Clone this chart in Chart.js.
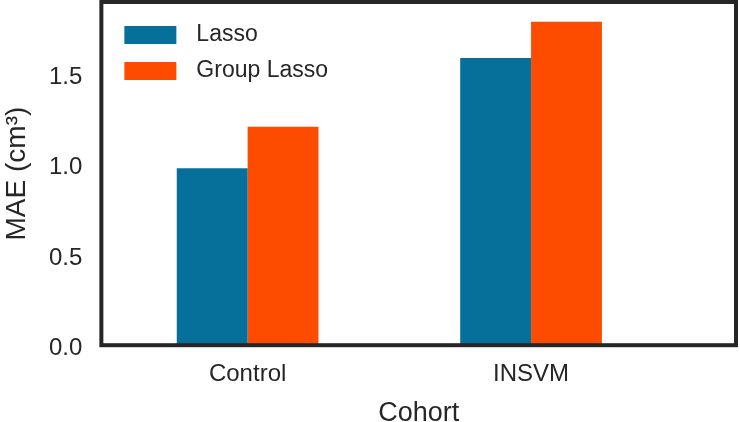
<!DOCTYPE html>
<html lang="en">
<head>
    <meta charset="UTF-8">
    <title>MAE by Cohort</title>
    <script src="https://cdn.jsdelivr.net/npm/chart.js"></script>
    <style>
        html, body { margin: 0; padding: 0; background: #fff; }
        #wrap { width: 740px; height: 422px; }
    </style>
</head>
<body>
<div id="wrap"><canvas id="maeChart"></canvas></div>
<script>
    // data
    const cohorts = ['Control', 'INSVM'];
    const lasso = [0.98, 1.59];
    const groupLasso = [1.21, 1.79];
    const yTicks = [0.0, 0.5, 1.0, 1.5];

    const ink = '#262626';
    Chart.defaults.font.family = '"Liberation Sans", Arial, sans-serif';
    Chart.defaults.color = ink;

    // black frame around the plot area, like the matplotlib axes spines
    const frame = {
        id: 'frame',
        afterDraw(chart) {
            const a = chart.chartArea, c = chart.ctx;
            c.save();
            c.strokeStyle = ink;
            c.lineWidth = 4;
            c.strokeRect(a.left, a.top, a.right - a.left, a.bottom - a.top);
            c.restore();
        }
    };

    // legend drawn inside the plot, top left
    const innerLegend = {
        id: 'innerLegend',
        afterDatasetsDraw(chart) {
            const a = chart.chartArea, c = chart.ctx;
            c.save();
            c.font = '23px "Liberation Sans", Arial, sans-serif';
            c.textBaseline = 'middle';
            chart.data.datasets.forEach((ds, i) => {
                const y = a.top + 33 + i * 36;
                c.fillStyle = ds.backgroundColor;
                c.fillRect(a.left + 23, y - 9, 52, 18);
                c.fillStyle = ink;
                c.fillText(ds.label, a.left + 95, y);
            });
            c.restore();
        }
    };

    // invisible tick marks are used as the gap between axis and labels
    const hiddenTicks = (len) => ({
        display: true,
        drawOnChartArea: false,
        drawTicks: true,
        tickLength: len,
        tickColor: 'rgba(0,0,0,0)'
    });

    const ctx = document.getElementById('maeChart').getContext('2d');
    new Chart(ctx, {
        type: 'bar',
        data: {
            datasets: [
                {
                    label: 'Lasso',
                    data: lasso.map((v, i) => ({x: i, y: v})),
                    backgroundColor: '#06709a'
                },
                {
                    label: 'Group Lasso',
                    data: groupLasso.map((v, i) => ({x: i, y: v})),
                    backgroundColor: '#fd4c00'
                }
            ]
        },
        options: {
            responsive: true,
            maintainAspectRatio: false,
            animation: false,
            categoryPercentage: 0.5,
            barPercentage: 1.0,
            layout: { padding: { top: 2, right: 4, bottom: 0, left: 0 } },
            plugins: {
                tooltip: { enabled: false },
                legend: { display: false }
            },
            scales: {
                x: {
                    type: 'linear',
                    offset: false,
                    min: -0.516,
                    max: 1.723,
                    grid: hiddenTicks(15),
                    border: { display: false },
                    afterBuildTicks: (axis) => {
                        axis.ticks = cohorts.map((c, i) => ({value: i}));
                    },
                    ticks: {
                        padding: 0,
                        color: ink,
                        font: { size: 24 },
                        callback: (v) => cohorts[v]
                    },
                    title: {
                        display: true,
                        text: 'Cohort',
                        color: ink,
                        font: { size: 27, lineHeight: 1 },
                        padding: { top: 11, bottom: -5 }
                    }
                },
                y: {
                    min: 0,
                    max: 1.9,
                    grid: hiddenTicks(19),
                    border: { display: false },
                    afterBuildTicks: (axis) => {
                        axis.ticks = yTicks.map(v => ({value: v}));
                    },
                    ticks: {
                        padding: 0,
                        labelOffset: 3,
                        color: ink,
                        font: { size: 24, lineHeight: 0.1 },
                        callback: (v) => v.toFixed(1)
                    },
                    title: {
                        display: true,
                        text: 'MAE (cm³)',
                        color: ink,
                        font: { size: 28, lineHeight: 1 },
                        padding: { top: 3, bottom: 18 }
                    }
                }
            }
        },
        plugins: [frame, innerLegend]
    });
</script>
</body>
</html>
